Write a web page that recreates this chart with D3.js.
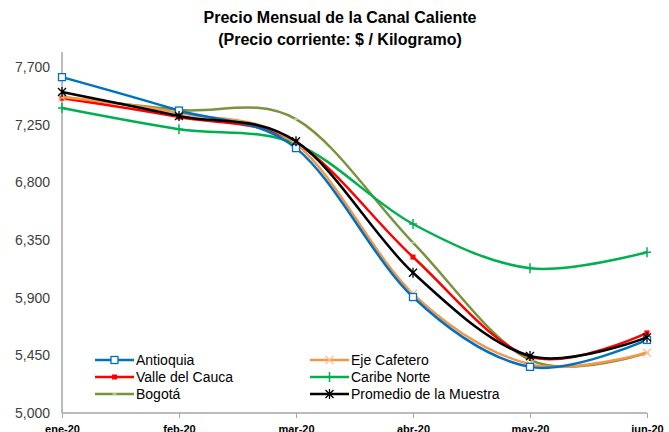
<!DOCTYPE html>
<html><head><meta charset="utf-8">
<script src="https://cdn.jsdelivr.net/npm/d3@7"></script>
<style>body{margin:0;background:#fff}svg{display:block}</style>
</head><body>
<script>
const months = ["ene-20","feb-20","mar-20","abr-20","may-20","jun-20"];
const yTicks = [5000,5450,5900,6350,6800,7250,7700];
const antioquia = [7621,7360,7067,5905,5360,5570];
const ejeCafetero = [7465,7340,7100,5930,5380,5470];
const valleCauca = [7457,7310,7110,6217,5440,5625];
const caribeNorte = [7380,7215,7100,6475,6130,6255];
const bogota = [7465,7365,7293,6330,5415,5470];
const promedio = [7505,7318,7120,6095,5445,5590];

const series = [
  {name:"Antioquia", values:antioquia, color:"#0070C0", marker:"square", col:0, row:0},
  {name:"Eje Cafetero", values:ejeCafetero, color:"#F79646", marker:"x", col:1, row:0},
  {name:"Valle del Cauca", values:valleCauca, color:"#FF0000", marker:"fsquare", col:0, row:1},
  {name:"Caribe Norte", values:caribeNorte, color:"#00B050", marker:"plus", col:1, row:1},
  {name:"Bogotá", values:bogota, color:"#77933C", marker:"dash", col:0, row:2},
  {name:"Promedio de la Muestra", values:promedio, color:"#000000", marker:"star", col:1, row:2}
];

const W=669,H=432;
const svg=d3.select("body").append("svg").attr("width",W).attr("height",H);
const x=d3.scalePoint().domain(months).range([62,647]);
const y=d3.scaleLinear().domain([5000,7700]).range([413,67]);

svg.append("text").attr("x",340).attr("y",23).attr("text-anchor","middle")
  .style("font-family","Liberation Sans Narrow, Arial Narrow, sans-serif").style("font-weight","bold").style("font-size","16px").attr("fill","#000")
  .text("Precio Mensual de la Canal Caliente");
svg.append("text").attr("x",340).attr("y",45).attr("text-anchor","middle")
  .style("font-family","Liberation Sans Narrow, Arial Narrow, sans-serif").style("font-weight","bold").style("font-size","16px").attr("fill","#000")
  .text("(Precio corriente: $ / Kilogramo)");

// y axis
const ya=svg.append("g").attr("transform","translate(62,0)")
  .call(d3.axisLeft(y).tickValues(yTicks).tickSize(0).tickPadding(12).tickFormat(d3.format(",")));
ya.select(".domain").attr("stroke","#A6A6A6").attr("stroke-width",1.5).attr("d","M0,52V413");
ya.selectAll("text").style("font-family","Liberation Sans, Arial, sans-serif").style("font-size","14px").attr("fill","#404040");

// x axis
const xa=svg.append("g").attr("transform","translate(0,413)")
  .call(d3.axisBottom(x).tickSize(5).tickPadding(5));
xa.select(".domain").attr("stroke","#A6A6A6").attr("stroke-width",1.5).attr("d","M62,0H647");
xa.selectAll(".tick line").attr("stroke","#A6A6A6");
xa.selectAll("text").style("font-family","Liberation Sans, Arial, sans-serif").style("font-size","11px").style("font-weight","bold").attr("fill","#000").attr("dy","0.9em");

const line=d3.line().x((d,i)=>x(months[i])).y(d=>y(d)).curve(d3.curveCatmullRom.alpha(0));

function marker(g,type,color,cx,cy){
  if(type==="square") g.append("rect").attr("x",cx-3.5).attr("y",cy-3.5).attr("width",7).attr("height",7).attr("fill","#fff").attr("stroke",color).attr("stroke-width",1.3);
  else if(type==="fsquare") g.append("rect").attr("x",cx-2.5).attr("y",cy-2.5).attr("width",5).attr("height",5).attr("fill",color);
  else if(type==="x") g.append("path").attr("d",`M${cx-4},${cy-4}L${cx+4},${cy+4}M${cx-4},${cy+4}L${cx+4},${cy-4}`).attr("stroke","#FAC090").attr("stroke-width",1.3);
  else if(type==="plus") g.append("path").attr("d",`M${cx-4},${cy}L${cx+4},${cy}M${cx},${cy-5}L${cx},${cy+5}`).attr("stroke",color).attr("stroke-width",1.5);
  else if(type==="dash") g.append("path").attr("d",`M${cx-2},${cy}L${cx+2},${cy}`).attr("stroke","#C3D69B").attr("stroke-width",1.5);
  else if(type==="star") g.append("path").attr("d",`M${cx-4},${cy-4}L${cx+4},${cy+4}M${cx-4},${cy+4}L${cx+4},${cy-4}M${cx},${cy-5}L${cx},${cy+5}`).attr("stroke",color).attr("stroke-width",1.3);
}

const order=[4,3,2,1,0,5];
order.forEach(k=>{
  const s=series[k];
  const g=svg.append("g");
  g.append("path").attr("d",line(s.values)).attr("fill","none").attr("stroke",s.color).attr("stroke-width",2.5);
  s.values.forEach((v,i)=>marker(g,s.marker,s.color,x(months[i]),y(v)));
});

// legend
const lg=svg.append("g");
series.forEach(s=>{
  const lx = s.col===0?95:310;
  const ly = 360 + s.row*17;
  lg.append("line").attr("x1",lx).attr("x2",lx+39).attr("y1",ly).attr("y2",ly).attr("stroke",s.color).attr("stroke-width",2.5);
  marker(lg,s.marker,s.color,lx+19.5,ly);
  lg.append("text").attr("x",lx+41).attr("y",ly).attr("dy","0.35em")
    .style("font-family","Liberation Sans, Arial, sans-serif").style("font-size","14px").attr("fill","#000").text(s.name);
});
</script>
</body></html>
